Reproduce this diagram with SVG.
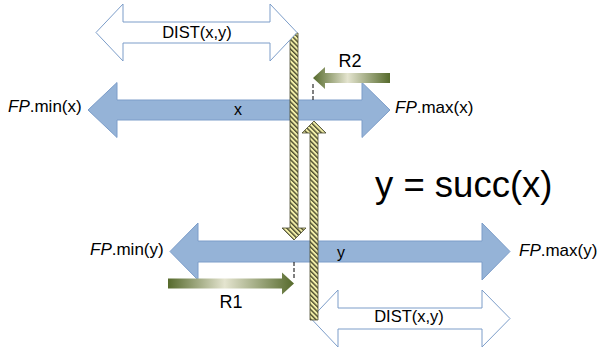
<svg xmlns="http://www.w3.org/2000/svg" width="601" height="349" viewBox="0 0 601 349">
  <defs>
    <pattern id="hatch" patternUnits="userSpaceOnUse" width="3.4" height="3.4" patternTransform="rotate(-45)">
      <rect width="3.4" height="3.4" fill="#F3F0A8"/>
      <rect width="1.4" height="3.4" fill="#4A4A2E"/>
    </pattern>
    <linearGradient id="olive" x1="0" y1="0" x2="1" y2="0">
      <stop offset="0" stop-color="#566A2C"/>
      <stop offset="0.45" stop-color="#E4E4CF"/>
      <stop offset="1" stop-color="#566A2C"/>
    </linearGradient>
  </defs>
  <style>
    .blue { fill: #95B3D7; stroke: #7C9DC9; stroke-width: 1; }
    .dist { fill: #FFFFFF; stroke: #7C9DC9; stroke-width: 1; }
    .bar { fill: url(#hatch); stroke: #4A4A2E; stroke-width: 0.8; }
    .r { fill: url(#olive); stroke: none; }
    .dash { stroke: #000; stroke-width: 1; stroke-dasharray: 4 2; fill: none; }
    .lbl { font-family: "Liberation Sans", Arial, sans-serif; fill: #000; }
    .fp { font-size: 17px; }
    .it { font-style: italic; }
  </style>
  <rect width="601" height="349" fill="#FFFFFF"/>

  <g id="x-range">
    <polygon class="blue" points="88,110 117,82.5 117,100 362,100 362,82.5 390,110 362,137.5 362,120 117,120 117,137.5"/>
    <text class="lbl" x="238" y="115" font-size="16" text-anchor="middle">x</text>
  </g>

  <g id="y-range">
    <polygon class="blue" points="170,251.5 198,223 198,241 482,241 482,223 510,251.5 482,280 482,262 198,262 198,280"/>
    <text class="lbl" x="341" y="258" font-size="16" text-anchor="middle">y</text>
  </g>

  <g id="dist-bottom">
    <polygon class="dist" points="311,318.5 338,290 338,308 482,308 482,290 510,318.5 482,347 482,329 338,329 338,347"/>
    <text class="lbl" x="409" y="322" font-size="16.5" text-anchor="middle">DIST(x,y)</text>
  </g>

  <g id="connectors">
    <polygon id="bar-down" class="bar" points="290,33 298,33 298,228 306,228 294,240 282,228 290,228"/>
    <polygon id="bar-up" class="bar" points="310,320 318,320 318,133 326,133 314,121 302,133 310,133"/>
    <line class="dash" x1="313" y1="84" x2="313" y2="100"/>
    <line class="dash" x1="294" y1="262" x2="294" y2="278"/>
  </g>

  <g id="dist-top">
    <polygon class="dist" points="96,32.5 123,4 123,22 270,22 270,4 297,32.5 270,61 270,43 123,43 123,61"/>
    <text class="lbl" x="197" y="37.5" font-size="16.5" text-anchor="middle">DIST(x,y)</text>
  </g>

  <g id="r2">
    <polygon class="r" points="313,78 325,67 325,73 390,73 390,83 325,83 325,89"/>
    <text class="lbl" x="350" y="67" font-size="18" text-anchor="middle">R2</text>
  </g>

  <g id="r1">
    <polygon class="r" points="168,278.5 282,278.5 282,272.5 294,283.5 282,294.5 282,288.5 168,288.5"/>
    <text class="lbl" x="231" y="308" font-size="18" text-anchor="middle">R1</text>
  </g>

  <g id="labels">
    <text class="lbl fp" x="8" y="112"><tspan class="it">FP</tspan>.min(x)</text>
    <text class="lbl fp" x="395" y="113"><tspan class="it">FP</tspan>.max(x)</text>
    <text class="lbl fp" x="90" y="255"><tspan class="it">FP</tspan>.min(y)</text>
    <text class="lbl fp" x="519" y="256"><tspan class="it">FP</tspan>.max(y)</text>
    <text class="lbl" x="375" y="197" font-size="36.5">y = succ(x)</text>
  </g>
</svg>
